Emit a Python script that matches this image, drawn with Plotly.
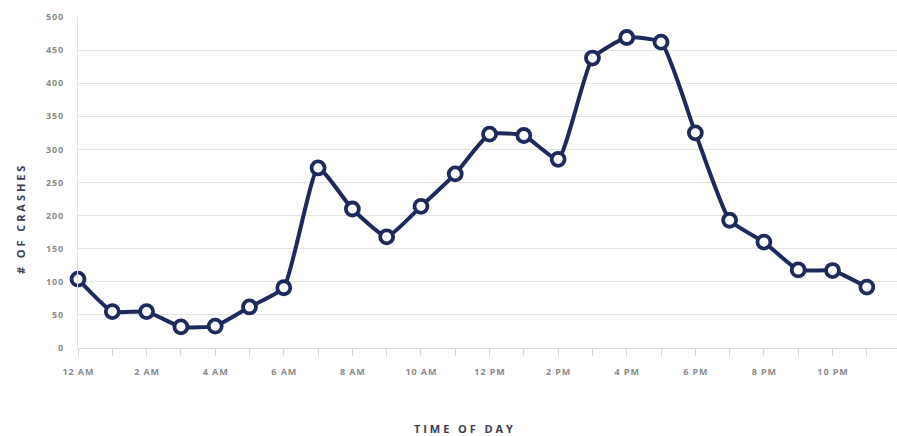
import plotly.graph_objects as go

hours = list(range(24))
crashes = [104, 55, 55, 32, 33, 62, 91, 272, 210, 168, 214, 263,
           323, 321, 285, 438, 469, 462, 325, 193, 160, 118, 117, 92]
x_tick_vals = [0, 2, 4, 6, 8, 10, 12, 14, 16, 18, 20, 22]
x_tick_text = ["12 AM", "2 AM", "4 AM", "6 AM", "8 AM", "10 AM",
               "12 PM", "2 PM", "4 PM", "6 PM", "8 PM", "10 PM"]
y_tick_vals = [0, 50, 100, 150, 200, 250, 300, 350, 400, 450, 500]

NAVY = "#1e2a5c"
FONT = "Open Sans"
TICK_SEP = "\u200a"
TITLE_SEP = "\u2009\u200a"


def spaced(text, sep):
    return sep.join(text)


fig = go.Figure()
fig.add_trace(go.Scatter(
    x=hours, y=crashes, mode="lines+markers",
    line=dict(color=NAVY, width=4, shape="spline", smoothing=0.45),
    marker=dict(size=13, color="white", line=dict(color=NAVY, width=3.8)),
    cliponaxis=False, hoverinfo="skip",
))

fig.update_layout(
    width=897, height=436,
    margin=dict(l=78, r=0, t=17, b=88),
    paper_bgcolor="white", plot_bgcolor="white",
    showlegend=False,
    font=dict(family=FONT),
    xaxis=dict(
        range=[0, 23.88], showgrid=False, zeroline=False,
        showline=True, linecolor="#dcdcdc", linewidth=1,
        tickmode="array", tickvals=hours,
        ticktext=[spaced(x_tick_text[x_tick_vals.index(h)], TICK_SEP) if h in x_tick_vals else ""
                  for h in hours],
        ticks="outside", ticklen=7, tickcolor="#d4d4d4", tickwidth=1,
        ticklabelstandoff=8,
        tickfont=dict(family=FONT, size=9, color="#8a8a8a", weight="bold"),
    ),
    yaxis=dict(
        range=[0, 500], showgrid=True, gridcolor="#e4e4e4", gridwidth=1,
        zeroline=False, showline=True, linecolor="#e4e4e4", linewidth=1,
        tickmode="array", tickvals=y_tick_vals,
        ticktext=[spaced(str(v), TICK_SEP) for v in y_tick_vals],
        ticks="", ticklabelstandoff=12,
        tickfont=dict(family=FONT, size=9, color="#8a8a8a", weight="bold"),
    ),
    annotations=[
        dict(text=spaced("# OF CRASHES", TITLE_SEP), x=20, y=220,
             showarrow=False, textangle=-90,
             font=dict(family=FONT, size=11, color="#3d3d4d", weight="bold")),
        dict(text=spaced("TIME OF DAY", TITLE_SEP), x=463, y=428,
             showarrow=False,
             font=dict(family=FONT, size=11, color="#3d3d4d", weight="bold")),
    ],
)

# place the axis-title annotations in pixel terms
plot_w = 897 - 78
plot_h = 436 - 17 - 88
for ann in fig.layout.annotations:
    px, py = ann.x, ann.y
    ann.xref = "paper"
    ann.yref = "paper"
    ann.x = (px - 78) / plot_w
    ann.y = (436 - 88 - py) / plot_h
    ann.xanchor = "center"
    ann.yanchor = "middle"

fig.write_html("out.html")
